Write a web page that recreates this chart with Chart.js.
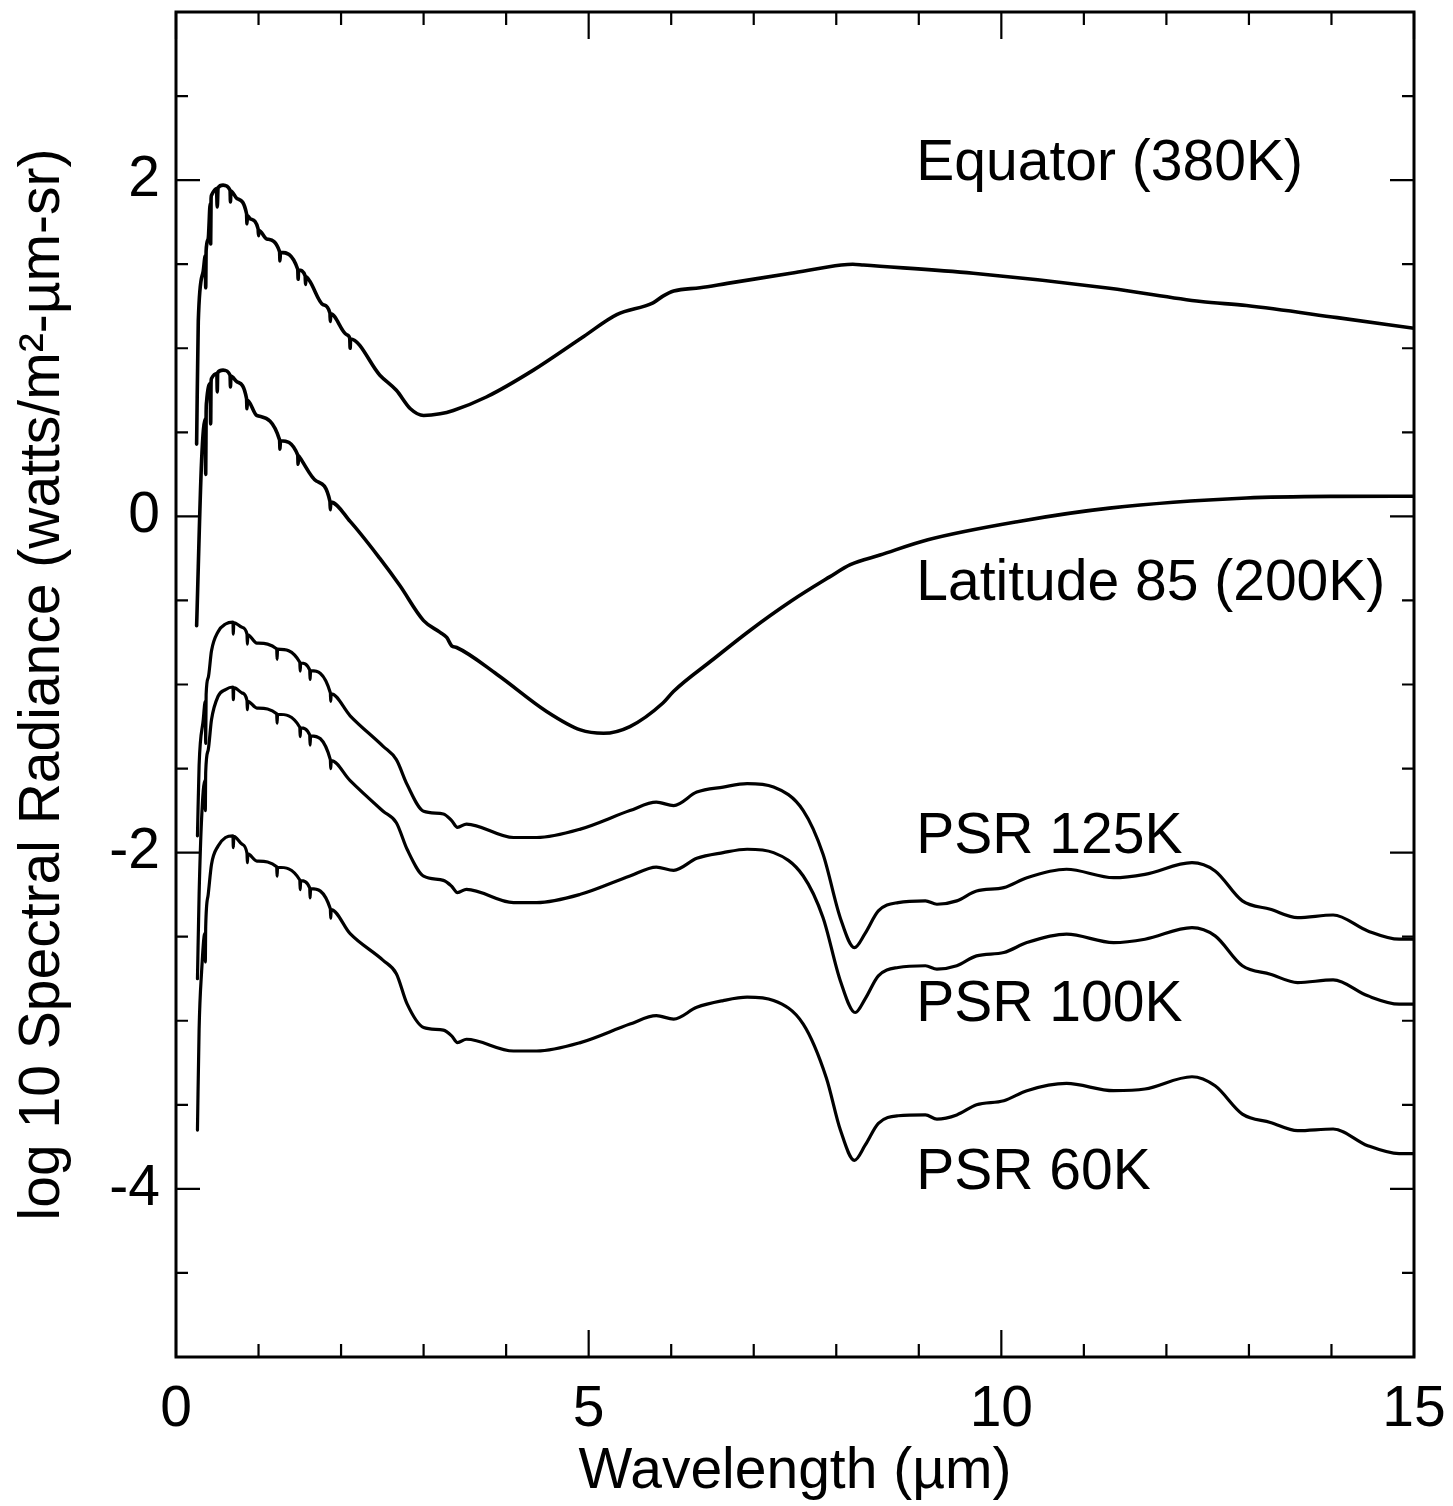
<!DOCTYPE html>
<html><head><meta charset="utf-8">
<script src="https://cdn.jsdelivr.net/npm/chart.js@4.4.0/dist/chart.umd.min.js"></script>
<style>html,body{margin:0;padding:0;background:#fff;} canvas{display:block;}</style>
</head><body>
<canvas id="c" width="1453" height="1506"></canvas>
<script>
// ---- data (x = wavelength µm, y = log10 radiance) ----
const equator = [[0.25,0.43],[0.27,1.16],[0.33,1.46],[0.355,1.55],[0.36,1.36],[0.365,1.58],[0.39,1.65],[0.415,1.86],[0.42,1.62],[0.425,1.89],[0.43,1.91],[0.49,1.95],[0.50,1.84],[0.51,1.955],[0.57,1.97],[0.655,1.94],[0.66,1.87],[0.665,1.935],[0.74,1.89],[0.855,1.80],[0.86,1.74],[0.865,1.79],[0.90,1.77],[0.995,1.71],[1.0,1.67],[1.005,1.70],[1.10,1.65],[1.255,1.575],[1.26,1.52],[1.265,1.57],[1.475,1.47],[1.48,1.41],[1.485,1.465],[1.565,1.43],[1.57,1.38],[1.575,1.425],[1.62,1.40],[1.78,1.26],[1.865,1.21],[1.87,1.16],[1.875,1.205],[2.07,1.08],[2.105,1.06],[2.11,1.0],[2.115,1.055],[2.47,0.84],[2.67,0.75],[2.84,0.64],[3.00,0.60],[3.2,0.61],[3.36,0.63],[3.76,0.71],[4.33,0.87],[4.94,1.07],[5.34,1.20],[5.78,1.27],[5.9,1.31],[6.03,1.34],[6.35,1.36],[6.68,1.386],[7.45,1.446],[8.06,1.495],[8.2,1.50],[8.33,1.495],[9.66,1.446],[11.31,1.357],[12.42,1.278],[12.97,1.254],[14.07,1.182],[15,1.119]];

const latitude85 = [[0.25,-0.65],[0.31,0.33],[0.355,0.58],[0.36,0.25],[0.365,0.62],[0.37,0.68],[0.415,0.79],[0.42,0.55],[0.425,0.80],[0.43,0.82],[0.495,0.85],[0.50,0.74],[0.505,0.855],[0.57,0.87],[0.655,0.84],[0.66,0.77],[0.665,0.835],[0.74,0.80],[0.855,0.70],[0.86,0.64],[0.865,0.69],[0.98,0.60],[1.255,0.455],[1.26,0.40],[1.265,0.45],[1.475,0.365],[1.48,0.31],[1.485,0.36],[1.50,0.35],[1.70,0.21],[1.865,0.09],[1.87,0.04],[1.875,0.085],[2.11,-0.03],[2.47,-0.25],[2.71,-0.41],[3.0,-0.62],[3.2,-0.69],[3.28,-0.72],[3.34,-0.77],[3.40,-0.78],[3.89,-0.94],[4.49,-1.16],[4.90,-1.27],[5.18,-1.29],[5.50,-1.25],[5.90,-1.11],[6.03,-1.04],[6.51,-0.85],[6.95,-0.68],[7.45,-0.505],[7.92,-0.36],[8.17,-0.287],[8.53,-0.23],[9.11,-0.139],[10.21,-0.030],[11.31,0.049],[12.97,0.109],[14.07,0.119],[15,0.12]];

const psr125 = [[0.26,-1.9],[0.28,-1.48],[0.33,-1.21],[0.355,-1.10],[0.36,-1.35],[0.365,-1.06],[0.39,-0.96],[0.43,-0.80],[0.51,-0.686],[0.60,-0.64],[0.69,-0.629],[0.695,-0.70],[0.70,-0.632],[0.80,-0.66],[0.86,-0.70],[0.865,-0.76],[0.87,-0.705],[0.98,-0.754],[1.22,-0.788],[1.225,-0.85],[1.23,-0.79],[1.50,-0.868],[1.505,-0.92],[1.51,-0.872],[1.62,-0.913],[1.625,-0.97],[1.63,-0.918],[1.87,-1.049],[1.875,-1.10],[1.88,-1.055],[2.11,-1.186],[2.51,-1.368],[2.67,-1.447],[2.80,-1.595],[3.0,-1.754],[3.24,-1.77],[3.34,-1.81],[3.41,-1.85],[3.52,-1.83],[4.09,-1.91],[4.37,-1.91],[4.90,-1.86],[5.50,-1.75],[5.82,-1.70],[6.03,-1.72],[6.31,-1.64],[6.63,-1.61],[6.92,-1.59],[7.24,-1.61],[7.60,-1.75],[7.84,-2.01],[8.05,-2.39],[8.22,-2.565],[8.35,-2.48],[8.51,-2.347],[8.75,-2.297],[9.08,-2.287],[9.22,-2.307],[9.46,-2.287],[9.70,-2.228],[10.03,-2.208],[10.31,-2.149],[10.79,-2.099],[11.36,-2.149],[11.74,-2.129],[12.31,-2.06],[12.59,-2.109],[12.92,-2.287],[13.26,-2.337],[13.59,-2.387],[14.02,-2.371],[14.44,-2.466],[14.82,-2.515],[15,-2.515]];

const psr100 = [[0.26,-2.75],[0.28,-2.25],[0.31,-1.80],[0.35,-1.57],[0.355,-1.75],[0.36,-1.52],[0.39,-1.39],[0.43,-1.21],[0.51,-1.07],[0.60,-1.03],[0.69,-1.015],[0.695,-1.09],[0.70,-1.018],[0.80,-1.05],[0.86,-1.095],[0.865,-1.15],[0.87,-1.10],[0.98,-1.14],[1.22,-1.174],[1.225,-1.23],[1.23,-1.177],[1.50,-1.254],[1.505,-1.31],[1.51,-1.258],[1.62,-1.30],[1.625,-1.36],[1.63,-1.305],[1.87,-1.447],[1.875,-1.50],[1.88,-1.452],[2.11,-1.572],[2.51,-1.754],[2.67,-1.822],[2.80,-1.98],[3.0,-2.14],[3.24,-2.165],[3.34,-2.20],[3.41,-2.238],[3.52,-2.218],[4.09,-2.297],[4.37,-2.297],[4.90,-2.248],[5.50,-2.139],[5.82,-2.086],[6.03,-2.105],[6.31,-2.034],[6.63,-2.0],[6.92,-1.98],[7.24,-2.0],[7.60,-2.139],[7.84,-2.387],[8.05,-2.763],[8.23,-2.951],[8.35,-2.87],[8.51,-2.733],[8.75,-2.683],[9.08,-2.673],[9.22,-2.693],[9.46,-2.673],[9.70,-2.614],[10.03,-2.594],[10.31,-2.535],[10.79,-2.485],[11.36,-2.535],[11.74,-2.515],[12.31,-2.446],[12.59,-2.495],[12.92,-2.673],[13.26,-2.723],[13.59,-2.773],[14.02,-2.757],[14.44,-2.852],[14.82,-2.901],[15,-2.901]];

const psr60 = [[0.26,-3.65],[0.28,-3.05],[0.31,-2.71],[0.35,-2.48],[0.355,-2.65],[0.36,-2.44],[0.39,-2.25],[0.43,-2.07],[0.51,-1.96],[0.60,-1.91],[0.69,-1.90],[0.695,-1.97],[0.70,-1.903],[0.80,-1.95],[0.86,-2.004],[0.865,-2.06],[0.87,-2.008],[0.98,-2.05],[1.22,-2.084],[1.225,-2.14],[1.23,-2.087],[1.50,-2.163],[1.505,-2.22],[1.51,-2.167],[1.62,-2.209],[1.625,-2.27],[1.63,-2.214],[1.87,-2.334],[1.875,-2.39],[1.88,-2.339],[2.11,-2.482],[2.51,-2.641],[2.67,-2.72],[2.80,-2.90],[3.0,-3.04],[3.24,-3.056],[3.34,-3.09],[3.41,-3.13],[3.52,-3.11],[4.09,-3.18],[4.37,-3.18],[4.90,-3.13],[5.50,-3.02],[5.82,-2.97],[6.03,-2.99],[6.31,-2.92],[6.63,-2.88],[6.92,-2.86],[7.24,-2.88],[7.60,-3.02],[7.88,-3.34],[8.05,-3.65],[8.22,-3.83],[8.35,-3.74],[8.51,-3.61],[8.75,-3.565],[9.08,-3.56],[9.22,-3.585],[9.46,-3.56],[9.70,-3.50],[10.03,-3.476],[10.31,-3.416],[10.79,-3.373],[11.36,-3.416],[11.74,-3.406],[12.31,-3.333],[12.59,-3.387],[12.92,-3.555],[13.26,-3.605],[13.59,-3.654],[14.02,-3.644],[14.44,-3.743],[14.82,-3.79],[15,-3.79]];

const seriesNames = ['Equator (380K)','Latitude 85 (200K)','PSR 125K','PSR 100K','PSR 60K'];
const curveLabelX = [8.97, 8.97, 8.97, 8.97, 8.97];
const curveLabelY = [2, -0.5, -2, -3, -4];
const xTickValues = [0, 5, 10, 15];
const yTickValues = [-4, -2, 0, 2];
const xMinorTicks = [1, 2, 3, 4, 6, 7, 8, 9, 11, 12, 13, 14];
const yMinorTicks = [-4.5, -3.5, -3, -2.5, -1.5, -1, -0.5, 0.5, 1, 1.5, 2.5];

const FONT = "'Liberation Sans', Arial, Helvetica, sans-serif";
Chart.defaults.font.family = FONT;
Chart.defaults.color = '#000';

const allSeries = [equator, latitude85, psr125, psr100, psr60];
const widths = [3.6, 3.6, 3.2, 3.2, 3.2];

const framePlugin = {
  id: 'frame',
  afterDatasetsDraw(chart) {
    const {ctx, chartArea: a, scales: {x, y}} = chart;
    ctx.save();
    ctx.strokeStyle = '#000';
    ctx.lineCap = 'butt';
    ctx.lineWidth = 2.2;
    ctx.beginPath();
    const xt = (v, len) => { const p = x.getPixelForValue(v);
      ctx.moveTo(p, a.bottom); ctx.lineTo(p, a.bottom - len);
      ctx.moveTo(p, a.top); ctx.lineTo(p, a.top + len); };
    const yt = (v, len) => { const p = y.getPixelForValue(v);
      ctx.moveTo(a.left, p); ctx.lineTo(a.left + len, p);
      ctx.moveTo(a.right, p); ctx.lineTo(a.right - len, p); };
    xTickValues.forEach(v => xt(v, 27));
    xMinorTicks.forEach(v => xt(v, 13));
    yTickValues.forEach(v => yt(v, 24));
    yMinorTicks.forEach(v => yt(v, 12));
    ctx.stroke();
    ctx.lineWidth = 3;
    ctx.strokeRect(a.left, a.top, a.right - a.left, a.bottom - a.top);
    ctx.fillStyle = '#000';
    ctx.font = '57px ' + FONT;
    ctx.textAlign = 'left';
    ctx.textBaseline = 'alphabetic';
    seriesNames.forEach((t, i) => {
      ctx.fillText(t, x.getPixelForValue(curveLabelX[i]), y.getPixelForValue(curveLabelY[i]));
    });
    ctx.restore();
  }
};

const noPad = s => { s.paddingTop = 0; s.paddingBottom = 0; s.paddingLeft = 0; s.paddingRight = 0; };

new Chart(document.getElementById('c'), {
  type: 'scatter',
  data: {
    datasets: allSeries.map((s, i) => ({
      label: seriesNames[i],
      data: s.map(p => ({x: p[0], y: p[1]})),
      showLine: true,
      borderColor: '#000',
      backgroundColor: '#000',
      borderWidth: widths[i],
      pointRadius: 0,
      pointHoverRadius: 0,
      borderJoinStyle: 'round',
      borderCapStyle: 'round',
      cubicInterpolationMode: 'monotone',
      fill: false
    }))
  },
  options: {
    responsive: false,
    animation: false,
    devicePixelRatio: 1,
    layout: {padding: {top: 12, right: 39, left: 0, bottom: 0}},
    plugins: {legend: {display: false}, tooltip: {enabled: false}},
    scales: {
      x: {
        type: 'linear', min: 0, max: 15,
        grid: {display: false, drawTicks: false},
        border: {display: false},
        afterBuildTicks: s => { s.ticks = xTickValues.map(v => ({value: v})); },
        afterFit: s => { s.height = 149; noPad(s); },
        ticks: {autoSkip: false, maxRotation: 0, padding: 19, color: '#000', font: {size: 57}, callback: v => String(v)},
        title: {display: true, text: 'Wavelength (µm)', color: '#000', font: {size: 57, lineHeight: 1}, padding: {top: 0, bottom: 5.5}}
      },
      y: {
        type: 'linear', min: -5, max: 3,
        grid: {display: false, drawTicks: false},
        border: {display: false},
        afterBuildTicks: s => { s.ticks = yTickValues.map(v => ({value: v})); },
        afterFit: s => { s.width = 176; noPad(s); },
        ticks: {autoSkip: false, padding: 16, color: '#000', font: {size: 57}, callback: v => String(v)},
        title: {display: true, text: 'log 10 Spectral Radiance (watts/m²-µm-sr)', color: '#000', font: {size: 57, lineHeight: 1}, padding: {top: 14.5, bottom: 0}}
      }
    }
  },
  plugins: [framePlugin]
});
</script>
</body></html>
